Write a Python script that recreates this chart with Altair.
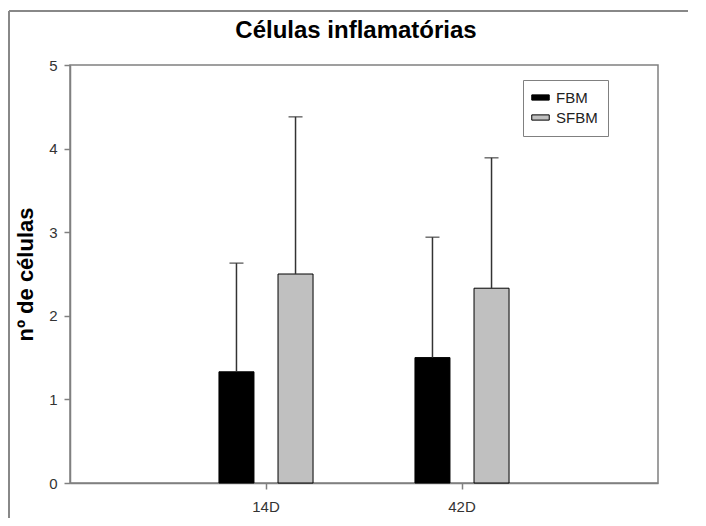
import altair as alt
import pandas as pd

categories = ["14D", "42D"]
groups = ["FBM", "SFBM"]
fbm_mean = [1.33, 1.5]
sfbm_mean = [2.5, 2.33]
fbm_upper = [2.63, 2.94]
sfbm_upper = [4.38, 3.89]
y_ticks = [0, 1, 2, 3, 4, 5]
title_text = "Células inflamatórias"

rows = []
for i, c in enumerate(categories):
    rows.append({"cat": c, "grp": "FBM", "mean": fbm_mean[i], "upper": fbm_upper[i]})
    rows.append({"cat": c, "grp": "SFBM", "mean": sfbm_mean[i], "upper": sfbm_upper[i]})
df = pd.DataFrame(rows)

W, H = 588, 418
FONT = "Liberation Sans"

x_enc = alt.X("cat:N", sort=categories,
              scale=alt.Scale(paddingInner=0.52, paddingOuter=0.76),
              axis=alt.Axis(title=None, labelAngle=0, tickSize=6, labelPadding=10,
                            labelFontSize=15))
xoff_enc = alt.XOffset("grp:N", sort=groups, scale=alt.Scale(paddingInner=0.407))
y_scale = alt.Scale(domain=[0, 5], nice=False)

bars = alt.Chart(df).mark_bar(stroke="black", strokeWidth=1).encode(
    x=x_enc,
    xOffset=xoff_enc,
    y=alt.Y("mean:Q", scale=y_scale,
            axis=alt.Axis(title="nº de células", values=y_ticks, format="d", tickSize=6,
                          labelPadding=7, titlePadding=11, titleFontSize=22,
                          titleFontWeight="bold", titleColor="black", grid=False,
                          labelFontSize=15)),
    color=alt.Color("grp:N", sort=groups,
                    scale=alt.Scale(domain=groups, range=["#000000", "#c0c0c0"]),
                    legend=alt.Legend(title=None, orient="none", legendX=453, legendY=15,
                                      symbolType="M-1.5,-0.45L1.5,-0.45L1.5,0.45L-1.5,0.45Z",
                                      symbolSize=136, symbolStrokeColor="black",
                                      symbolStrokeWidth=1, labelFontSize=15,
                                      labelColor="#222", padding=10, rowPadding=4,
                                      strokeColor="#808080", fillColor="white",
                                      labelOffset=8)),
)

err = alt.Chart(df).mark_rule(color="#333333", strokeWidth=1.5).encode(
    x=alt.X("cat:N", sort=categories),
    xOffset=alt.XOffset("grp:N", sort=groups),
    y=alt.Y("mean:Q"),
    y2="upper:Q",
)

caps = alt.Chart(df).mark_tick(color="#333333", size=14, thickness=1.5).encode(
    x=alt.X("cat:N", sort=categories),
    xOffset=alt.XOffset("grp:N", sort=groups),
    y=alt.Y("upper:Q"),
)

one = pd.DataFrame({"a": [0]})
frame_left = alt.Chart(one).mark_rule(color="#888888", strokeWidth=2).encode(
    x=alt.value(-61), y=alt.value(-54), y2=alt.value(H + 35)
)
frame_top = alt.Chart(one).mark_rule(color="#888888", strokeWidth=2).encode(
    x=alt.value(-61), x2=alt.value(W + 30), y=alt.value(-54)
)
title = alt.Chart(one).mark_text(font=FONT, fontSize=24, fontWeight="bold", color="black",
                                 align="center", baseline="alphabetic").encode(
    x=alt.value(W / 2 - 8), y=alt.value(-27), text=alt.value(title_text)
)

chart = alt.layer(bars, err, caps, frame_left, frame_top, title).properties(
    width=W, height=H,
    autosize=alt.AutoSizeParams(type="none"),
    padding={"left": 62, "top": 57, "right": 30, "bottom": 35},
).configure_view(
    stroke="#808080", strokeWidth=1.5
).configure_axis(
    domainColor="#808080", tickColor="#808080", labelColor="#333333",
    labelFont=FONT, titleFont=FONT, domainWidth=1.5, tickWidth=1.5
).configure_legend(
    labelFont=FONT
)

chart.save("out.html", embed_options={"renderer": "svg", "actions": False})
